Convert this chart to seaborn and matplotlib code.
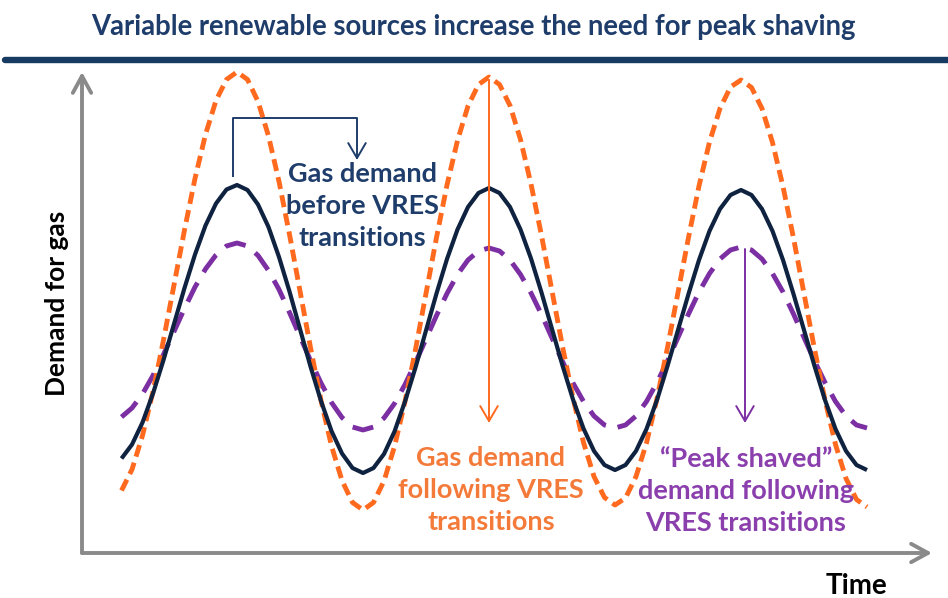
import matplotlib
matplotlib.use("Agg")
import matplotlib.pyplot as plt
import seaborn as sns
import pandas as pd

# ---------------- data ----------------
hours = [0, 1, 2, 3, 4, 5, 6, 7, 8, 9, 10, 11,
         12, 13, 14, 15, 16, 17, 18, 19, 20, 21, 22, 23,
         24, 25, 26, 27, 28, 29, 30, 31, 32, 33, 34, 35,
         36, 37, 38, 39, 40, 41, 42, 43, 44, 45, 46, 47,
         48, 49, 50, 51, 52, 53, 54, 55, 56, 57, 58, 59,
         60, 61, 62, 63, 64, 65, 66, 67, 68, 69, 70, 71]

before_vres = [18.9, 21.7, 26.1, 31.9, 38.6, 45.8, 53.0, 59.7, 65.5, 69.9, 72.7, 73.6,
               72.6, 69.7, 65.2, 59.2, 52.3, 44.8, 37.3, 30.4, 24.4, 19.9, 17.0, 16.0,
               17.0, 19.8, 24.3, 30.3, 37.1, 44.5, 51.9, 58.8, 64.7, 69.2, 72.0, 73.0,
               72.0, 69.2, 64.7, 58.9, 52.1, 44.8, 37.5, 30.7, 24.9, 20.4, 17.6, 16.6,
               17.6, 20.4, 24.8, 30.6, 37.4, 44.6, 51.8, 58.6, 64.4, 68.8, 71.6, 72.6,
               71.6, 68.8, 64.4, 58.6, 51.8, 44.6, 37.4, 30.6, 24.8, 20.4, 17.6, 16.6]

following_vres = [12.5, 16.7, 23.5, 32.3, 42.6, 53.6, 64.6, 74.9, 83.7, 90.5, 94.7, 96.2,
                  94.7, 90.3, 83.4, 74.3, 63.7, 52.4, 41.1, 30.5, 21.4, 14.5, 10.1, 8.6,
                  10.1, 14.4, 21.3, 30.3, 40.7, 51.9, 63.1, 73.6, 82.5, 89.4, 93.7, 95.2,
                  93.7, 89.5, 82.7, 73.8, 63.5, 52.4, 41.3, 31.0, 22.1, 15.3, 11.1, 9.6,
                  11.0, 15.3, 22.0, 30.9, 41.1, 52.1, 63.1, 73.4, 82.2, 88.9, 93.2, 94.6,
                  93.1, 88.9, 82.1, 73.3, 63.0, 51.9, 40.8, 30.6, 21.7, 14.9, 10.7, 9.2]

peak_shaved = [27.2, 29.0, 31.8, 35.5, 39.7, 44.3, 48.9, 53.2, 56.8, 59.6, 61.4, 62.0,
               61.4, 59.5, 56.5, 52.7, 48.1, 43.3, 38.5, 34.0, 30.1, 27.1, 25.2, 24.6,
               25.2, 27.0, 29.9, 33.7, 38.1, 42.8, 47.5, 51.9, 55.7, 58.6, 60.4, 61.0,
               60.4, 58.6, 55.7, 52.0, 47.7, 43.0, 38.3, 34.0, 30.3, 27.4, 25.6, 25.0,
               25.6, 27.4, 30.3, 34.1, 38.4, 43.1, 47.8, 52.2, 55.9, 58.8, 60.6, 61.2,
               60.6, 58.8, 55.9, 52.2, 47.8, 43.1, 38.4, 34.1, 30.3, 27.4, 25.6, 25.0]

series_names = ["Gas demand before VRES transitions",
                "Gas demand following VRES transitions",
                "\u201cPeak shaved\u201d demand following VRES transitions"]

title_text = "Variable renewable sources increase the need for peak shaving"
xlabel_text = "Time"
ylabel_text = "Demand for gas"
label_before = "Gas demand\nbefore VRES\ntransitions"
label_following = "Gas demand\nfollowing VRES\ntransitions"
label_shaved = "\u201cPeak shaved\u201d\ndemand following\nVRES transitions"

# ---------------- style ----------------
NAVY_LINE = "#0f2341"
NAVY_TEXT = "#1f3d6b"
ORANGE_LINE = "#ff6a1f"
ORANGE_TEXT = "#f47a3a"
PURPLE_LINE = "#7b2fa3"
PURPLE_TEXT = "#8a3fad"
GRAY = "#8a8a8a"

sns.set_theme(style="white")
plt.rcParams["font.family"] = ["Lato", "DejaVu Sans"]

W, H = 948, 598
fig = plt.figure(figsize=(W / 100, H / 100), dpi=100)

# axes spanning pixel x 82..932 and y 72..553
ax_l, ax_r, ax_t, ax_b = 82, 932, 72, 553
ax = fig.add_axes([ax_l / W, (H - ax_b) / H, (ax_r - ax_l) / W, (ax_b - ax_t) / H])
px_per_h = 10.5
t0_px = 121.5
ax.set_xlim((ax_l - t0_px) / px_per_h, (ax_r - t0_px) / px_per_h)
ax.set_ylim(0, (ax_b - ax_t) / 5.0)
for s in ax.spines.values():
    s.set_visible(False)
ax.set_xticks([])
ax.set_yticks([])
ax.patch.set_alpha(0)

df = pd.DataFrame({
    "Time": hours * 3,
    "Demand": before_vres + following_vres + peak_shaved,
    "Series": [series_names[0]] * len(hours) + [series_names[1]] * len(hours)
              + [series_names[2]] * len(hours),
})

styles = {
    series_names[0]: dict(color=NAVY_LINE, linewidth=3.0, linestyle="-", zorder=4),
    series_names[1]: dict(color=ORANGE_LINE, linewidth=3.5, linestyle=(0, (2.5, 1.3)), zorder=3),
    series_names[2]: dict(color=PURPLE_LINE, linewidth=3.5, linestyle=(0, (4.4, 2.5)), zorder=2),
}
for name in series_names:
    sub = df[df["Series"] == name]
    sns.lineplot(data=sub, x="Time", y="Demand", ax=ax, legend=False,
                 solid_capstyle="butt", dash_capstyle="butt", clip_on=False,
                 **styles[name])
ax.set_xlabel("")
ax.set_ylabel("")

# axis arrows
arrow_kw = dict(arrowstyle="->,head_length=0.55,head_width=0.3", color=GRAY, lw=2.8,
                mutation_scale=22, shrinkA=0, shrinkB=0)
ax.annotate("", xy=(0, 1), xytext=(0, 0), xycoords="axes fraction",
            textcoords="axes fraction", arrowprops=arrow_kw, annotation_clip=False)
ax.annotate("", xy=(1, 0), xytext=(0, 0), xycoords="axes fraction",
            textcoords="axes fraction", arrowprops=arrow_kw, annotation_clip=False)


def tx(px):
    return (px - t0_px) / px_per_h


def ty(py):
    return (ax_b - py) / 5.0


# bracket for "before" label
ax.plot([tx(233), tx(233), tx(357)], [ty(177), ty(118), ty(118)],
        color=NAVY_TEXT, lw=1.4, solid_capstyle="butt", clip_on=False)
ax.annotate("", xy=(tx(357), ty(160)), xytext=(tx(357), ty(118)),
            arrowprops=dict(arrowstyle="->,head_length=0.6,head_width=0.35",
                            color=NAVY_TEXT, lw=1.4, mutation_scale=18,
                            shrinkA=0, shrinkB=0), annotation_clip=False)
# orange arrow
ax.annotate("", xy=(tx(489), ty(423)), xytext=(tx(489), ty(80)),
            arrowprops=dict(arrowstyle="->,head_length=0.6,head_width=0.35",
                            color=ORANGE_LINE, lw=1.4, mutation_scale=18,
                            shrinkA=0, shrinkB=0), annotation_clip=False, zorder=5)
# purple arrow
ax.annotate("", xy=(tx(745), ty(423)), xytext=(tx(745), ty(249)),
            arrowprops=dict(arrowstyle="->,head_length=0.6,head_width=0.35",
                            color=PURPLE_LINE, lw=1.4, mutation_scale=18,
                            shrinkA=0, shrinkB=0), annotation_clip=False, zorder=5)


def fx(px):
    return px / W


def fy(py):
    return 1 - py / H


txt_kw = dict(ha="center", va="center", fontsize=19.5, fontweight="bold", linespacing=1.42)
fig.text(fx(362), fy(206), label_before, color=NAVY_TEXT, **txt_kw)
fig.text(fx(491), fy(490), label_following, color=ORANGE_TEXT, **txt_kw)
fig.text(fx(746), fy(491), label_shaved, color=PURPLE_TEXT, **txt_kw)

# title and rule
fig.text(fx(473), fy(27), title_text, ha="center", va="center", fontsize=19.8,
         fontweight="bold", color=NAVY_TEXT)
fig.add_artist(plt.Line2D([fx(5), fx(948)], [fy(60), fy(60)], color="#173a63", lw=4.6))

# axis labels
fig.text(fx(57), fy(303), ylabel_text, rotation=90, ha="center", va="center",
         fontsize=19, fontweight="bold", color="black")
fig.text(fx(857), fy(586), xlabel_text, ha="center", va="center",
         fontsize=20, fontweight="bold", color="black")

fig.savefig("out.png", dpi=100)
